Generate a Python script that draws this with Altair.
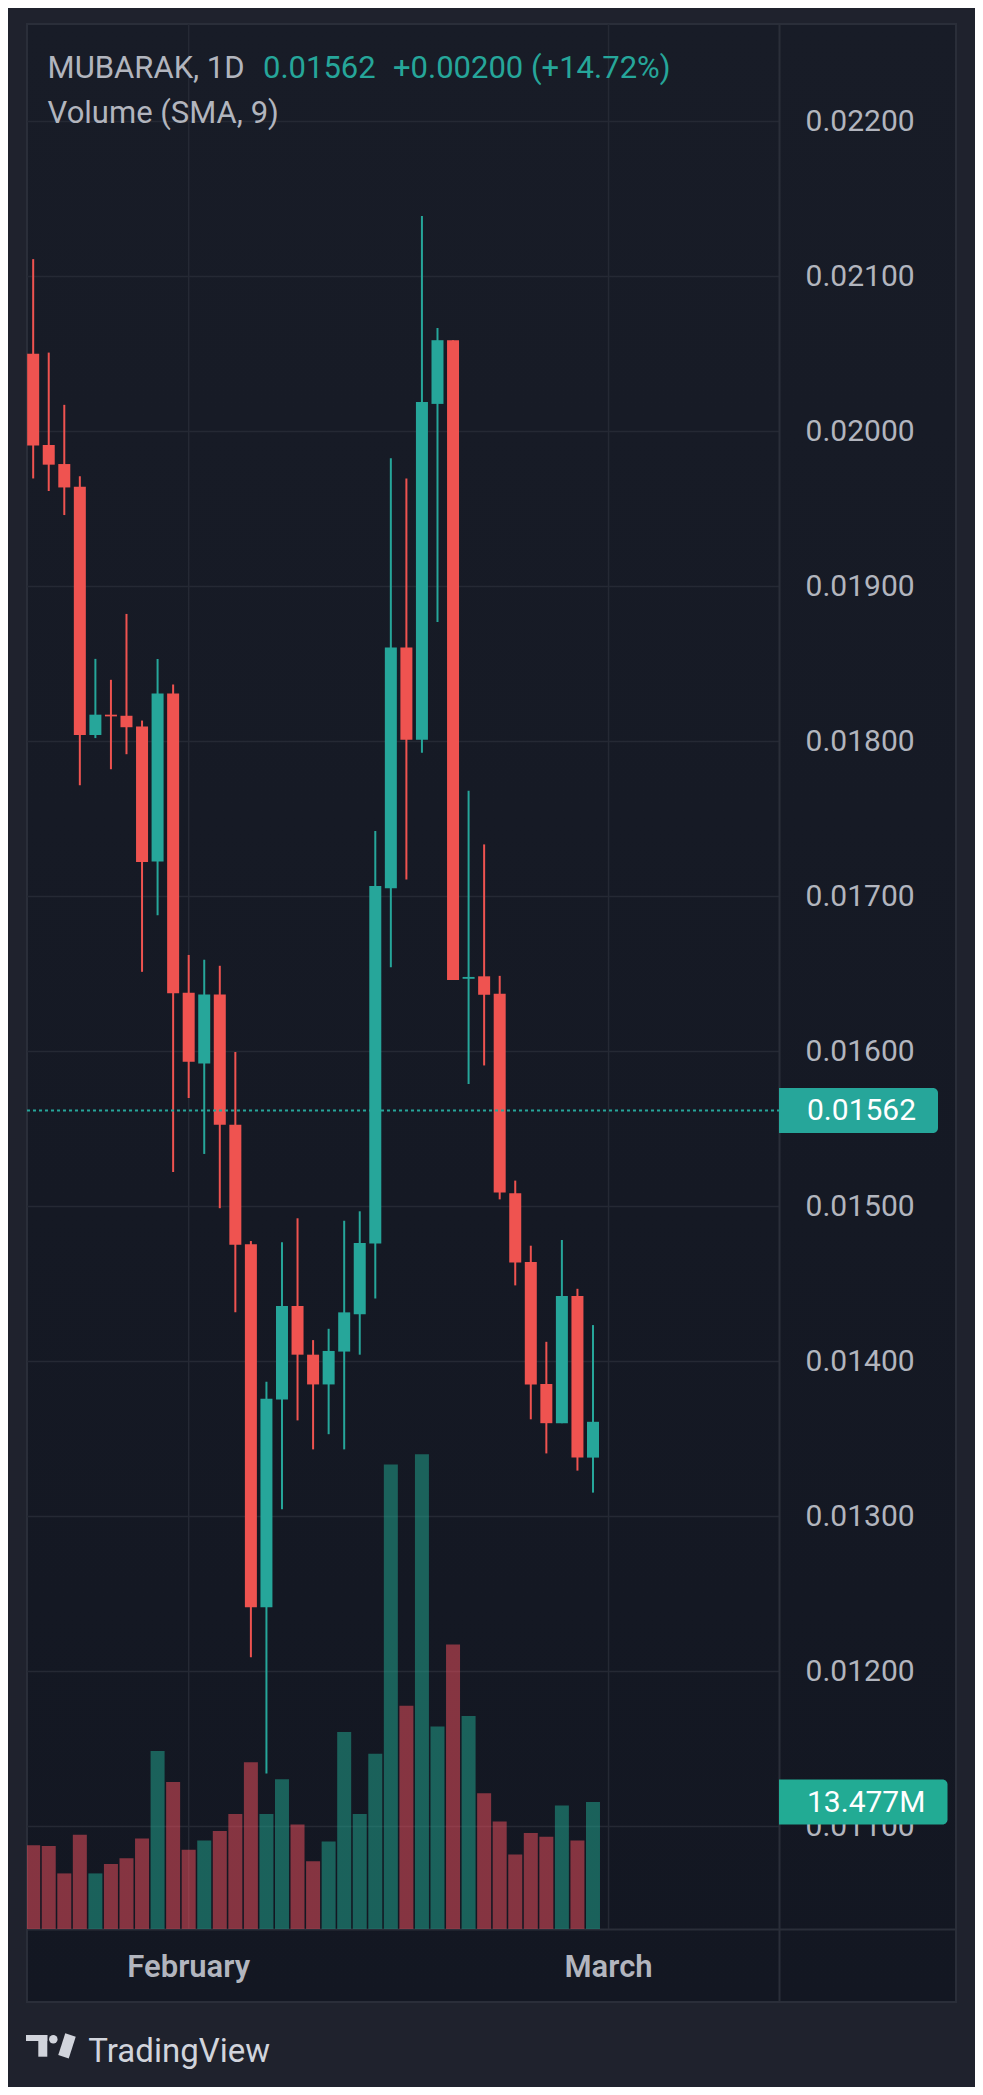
import altair as alt
import pandas as pd

# ---------------- data ----------------
day_index = list(range(37))
opens = [0.020501, 0.019913, 0.019790, 0.019643, 0.018042, 0.018173, 0.018166, 0.018096,
         0.017226, 0.018309, 0.016379, 0.015923, 0.016367, 0.015527, 0.014757, 0.012414,
         0.013755, 0.014358, 0.014044, 0.013852, 0.014064, 0.014305, 0.014761, 0.017053,
         0.018607, 0.018011, 0.020178, 0.020589, 0.016469, 0.016485, 0.016373, 0.015086,
         0.014642, 0.013855, 0.013602, 0.014423, 0.013380]
highs = [0.021112, 0.020509, 0.020172, 0.019712, 0.018533, 0.018398, 0.018823, 0.018135,
         0.018533, 0.018367, 0.016623, 0.016592, 0.016553, 0.015996, 0.014778, 0.013869,
         0.014769, 0.014924, 0.014138, 0.014211, 0.014908, 0.014969, 0.017422, 0.019828,
         0.019697, 0.021391, 0.020667, 0.020589, 0.017682, 0.017336, 0.016488, 0.015167,
         0.014747, 0.014127, 0.014784, 0.014469, 0.014235]
lows = [0.019697, 0.019616, 0.019461, 0.017717, 0.018022, 0.017821, 0.017918, 0.016514,
        0.016879, 0.015223, 0.015700, 0.015339, 0.014989, 0.014317, 0.012092, 0.011342,
        0.013046, 0.013620, 0.013433, 0.013531, 0.013433, 0.014044, 0.014407, 0.016543,
        0.017110, 0.017928, 0.018771, 0.016461, 0.015790, 0.015910, 0.015046, 0.014491,
        0.013627, 0.013407, 0.013602, 0.013296, 0.013154]
closes = [0.019910, 0.019786, 0.019639, 0.018042, 0.018173, 0.018162, 0.018092, 0.017222,
          0.018309, 0.016375, 0.015934, 0.016367, 0.015527, 0.014753, 0.012414, 0.013759,
          0.014358, 0.014044, 0.013852, 0.014068, 0.014317, 0.014765, 0.017068, 0.018607,
          0.018011, 0.020190, 0.020589, 0.016461, 0.016481, 0.016366, 0.015090, 0.014639,
          0.013852, 0.013602, 0.014423, 0.013380, 0.013611]
volumes_m = [8.9, 8.8, 5.9, 10.0, 5.9, 6.9, 7.5, 9.6, 18.9, 15.6, 8.4, 9.4, 10.4, 12.2,
             17.7, 12.2, 15.9, 11.1, 7.2, 9.3, 20.9, 12.2, 18.6, 49.3, 23.7, 50.4, 21.5,
             30.2, 22.6, 14.4, 11.4, 7.9, 10.2, 9.8, 13.1, 9.4, 13.477]

price_ticks = [0.011, 0.012, 0.013, 0.014, 0.015, 0.016, 0.017, 0.018, 0.019, 0.020, 0.021, 0.022]
month_labels = ["February", "March"]
month_index = [10, 37]

symbol_text = "MUBARAK, 1D"
last_price = 0.01562
last_price_text = "0.01562"
change_text = "+0.00200 (+14.72%)"
indicator_text = "Volume (SMA, 9)"
last_volume = 13.477
last_volume_text = "13.477M"
brand_text = "TradingView"

# ---------------- style ----------------
UP = "#26a69a"
DOWN = "#ef5350"
VOL_UP = "#22ab94"
VOL_DOWN = "#f7525f"
TXT = "#b2b5be"
GRID = "#252934"
LINE = "#2a2e39"
PAGE_BG = "#1f222d"
FONT = "Roboto"

W, H = 752, 1905
X_DOMAIN = [-0.0761, 47.64]
P_DOMAIN = [0.0103387, 0.022629]
V_DOMAIN = [0, 202.2]

xs = alt.Scale(domain=X_DOMAIN, nice=False, zero=False)
ps = alt.Scale(domain=P_DOMAIN, nice=False, zero=False)
vs = alt.Scale(domain=V_DOMAIN, nice=False)

df = pd.DataFrame({"i": day_index, "o": opens, "h": highs, "l": lows, "c": closes, "v": volumes_m})
ticks_df = pd.DataFrame({"p": price_ticks})
months_df = pd.DataFrame({"i": month_index, "m": month_labels})
one = pd.DataFrame({"a": [0]})

X = alt.X("i:Q", scale=xs, axis=None)

# background panel with frame
bg = alt.Chart(one).mark_rect(
    fill={"gradient": "linear", "x1": 0, "x2": 0, "y1": 0, "y2": 1,
          "stops": [{"offset": 0, "color": "#181c27"}, {"offset": 1, "color": "#131722"}]},
    stroke=LINE, strokeWidth=2,
).encode(x=alt.value(0), x2=alt.value(929), y=alt.value(0), y2=alt.value(1978))

hgrid = alt.Chart(ticks_df).mark_rule(color=GRID, strokeWidth=1.5).encode(
    y=alt.Y("p:Q", scale=ps, axis=None), x=alt.value(0), x2=alt.value(W))
vgrid = alt.Chart(months_df).mark_rule(color=GRID, strokeWidth=1.5).encode(
    x=X, y=alt.value(0), y2=alt.value(H))

sep_v = alt.Chart(one).mark_rule(color=LINE, strokeWidth=2).encode(
    x=alt.value(W + 0.5), y=alt.value(0), y2=alt.value(1978))
sep_h = alt.Chart(one).mark_rule(color=LINE, strokeWidth=2).encode(
    y=alt.value(H + 0.5), x=alt.value(0), x2=alt.value(929))

vol = alt.Chart(df).mark_bar(size=14, opacity=0.5, clip=True).encode(
    x=X,
    y=alt.Y("v:Q", scale=vs, axis=None),
    color=alt.condition("datum.c >= datum.o", alt.value(VOL_UP), alt.value(VOL_DOWN)),
)

wick = alt.Chart(df).mark_rule(strokeWidth=2, clip=True).encode(
    x=X,
    y=alt.Y("l:Q", scale=ps, axis=None),
    y2="h:Q",
    color=alt.condition("datum.c >= datum.o", alt.value(UP), alt.value(DOWN)),
)
body = alt.Chart(df).mark_bar(size=12, clip=True).encode(
    x=X,
    y=alt.Y("o:Q", scale=ps, axis=None),
    y2="c:Q",
    color=alt.condition("datum.c >= datum.o", alt.value(UP), alt.value(DOWN)),
)

lp_df = pd.DataFrame({"p": [last_price], "t": [last_price_text]})
price_line = alt.Chart(lp_df).mark_rule(color=UP, strokeWidth=2, strokeDash=[3, 3]).encode(
    y=alt.Y("p:Q", scale=ps, axis=None), x=alt.value(0), x2=alt.value(W))

ylabels = alt.Chart(ticks_df).mark_text(
    align="left", baseline="middle", fontSize=30, font=FONT, color=TXT, dy=1
).encode(y=alt.Y("p:Q", scale=ps, axis=None), x=alt.value(778.6),
         text=alt.Text("p:Q", format=".5f"))

price_box = alt.Chart(lp_df).mark_rect(
    color=UP, yOffset=-22.5, y2Offset=22.5, cornerRadiusTopRight=5, cornerRadiusBottomRight=5
).encode(y=alt.Y("p:Q", scale=ps, axis=None), y2="p:Q", x=alt.value(752), x2=alt.value(911))
price_txt = alt.Chart(lp_df).mark_text(
    align="left", baseline="middle", fontSize=30, font=FONT, color="#ffffff", dy=1
).encode(y=alt.Y("p:Q", scale=ps, axis=None), x=alt.value(780), text="t:N")

lv_df = pd.DataFrame({"v": [last_volume], "t": [last_volume_text]})
vol_box = alt.Chart(lv_df).mark_rect(
    color=VOL_UP, yOffset=-22.5, y2Offset=22.5, cornerRadiusTopRight=5, cornerRadiusBottomRight=5
).encode(y=alt.Y("v:Q", scale=vs, axis=None), y2="v:Q", x=alt.value(752), x2=alt.value(920.5))
vol_txt = alt.Chart(lv_df).mark_text(
    align="left", baseline="middle", fontSize=30, font=FONT, color="#ffffff", dy=1
).encode(y=alt.Y("v:Q", scale=vs, axis=None), x=alt.value(780), text="t:N")

xlabels = alt.Chart(months_df).mark_text(
    align="center", baseline="middle", fontSize=31, font=FONT, fontWeight=600, color=TXT
).encode(x=X, y=alt.value(1944), text="m:N")


def label(text, x, y, color, size=31, weight="normal"):
    return alt.Chart(pd.DataFrame({"t": [text]})).mark_text(
        align="left", baseline="alphabetic", fontSize=size, font=FONT, color=color, fontWeight=weight
    ).encode(x=alt.value(x), y=alt.value(y), text="t:N")


header1 = label(symbol_text, 20.6, 54, TXT)
header2 = label(last_price_text, 236, 54, UP)
header3 = label(change_text, 366, 54, UP)
header4 = label(indicator_text, 20.6, 98.8, TXT)

LOGO = "#d1d4dc"
logo_bar = alt.Chart(one).mark_rect(color=LOGO).encode(
    x=alt.value(-1), x2=alt.value(20.3), y=alt.value(2011), y2=alt.value(2017))
logo_stem = alt.Chart(one).mark_rect(color=LOGO).encode(
    x=alt.value(11.3), x2=alt.value(20.3), y=alt.value(2011), y2=alt.value(2032.7))
logo_dot = alt.Chart(one).mark_point(filled=True, opacity=1, color=LOGO, size=72, shape="circle").encode(
    x=alt.value(26.3), y=alt.value(2015.2))
logo_slash = alt.Chart(one).mark_rule(color=LOGO, strokeWidth=11).encode(
    x=alt.value(43.5), y=alt.value(2011), x2=alt.value(36.5), y2=alt.value(2032.7))
brand = label(brand_text, 61.3, 2037.7, LOGO, size=33)

chart = alt.layer(
    bg, hgrid, vgrid, sep_v, sep_h, vol, wick, body, price_line, ylabels,
    price_box, price_txt, vol_box, vol_txt, xlabels,
    header1, header2, header3, header4,
    logo_bar, logo_stem, logo_dot, logo_slash, brand,
).resolve_scale(y="independent").properties(
    width=W, height=H,
    padding={"left": 19, "top": 16, "right": 196, "bottom": 158},
    autosize=alt.AutoSizeParams(type="none"),
    background=PAGE_BG,
).configure_view(strokeWidth=0)

chart.save("out.html", embed_options={"renderer": "svg", "actions": False})
